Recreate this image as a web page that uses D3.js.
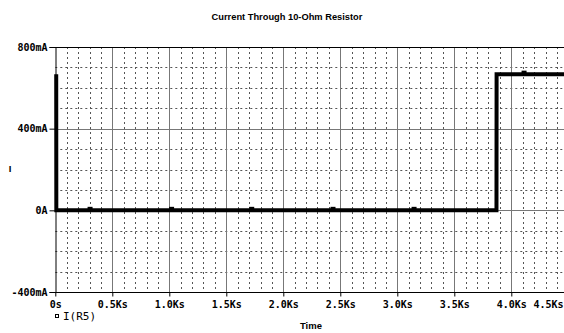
<!DOCTYPE html>
<html>
<head>
<meta charset="utf-8">
<script src="https://cdn.jsdelivr.net/npm/d3@7"></script>
<style>
  body { margin: 0; background: #fff; }
  svg { display: block; }
  .tick text { font-family: "DejaVu Sans Mono", monospace; font-weight: bold; font-size: 10px; fill: #000; }
</style>
</head>
<body>
<svg id="chart"></svg>
<script>
// trace data (time in s, current in A)
var times = [8, 9, 3870, 3871, 4600];
var current = [0.667, 0, 0, 0.667, 0.667];

// PSpice marker points along the trace
var markerTimes = [305, 1020, 1723, 2436, 3147, 4112];
var markerValues = [0, 0, 0, 0, 0, 0.667];

var xTicks = [0, 500, 1000, 1500, 2000, 2500, 3000, 3500, 4000, 4500];
var xTickLabels = ["0s", "0.5Ks", "1.0Ks", "1.5Ks", "2.0Ks", "2.5Ks", "3.0Ks", "3.5Ks", "4.0Ks", "4.5Ks"];
var yTicks = [-0.4, 0, 0.4, 0.8];
var yTickLabels = ["-400mA", "0A", "400mA", "800mA"];

var width = 564, height = 333;
// note: "top" is taken by window.top, so plot edges get their own names
var plotL = 55.3, plotR = 568.3, plotT = 47, plotB = 292;

var svg = d3.select("#chart").attr("width", width).attr("height", height);

var x = d3.scaleLinear().domain([0, 4500]).range([plotL, plotR]);
var y = d3.scaleLinear().domain([-0.4, 0.8]).range([plotB, plotT]);

//minor grid, dotted
var minorX = d3.range(100, 4600, 100).filter(function(d){ return d % 500 != 0; });
var minorY = d3.range(-3, 8).filter(function(d){ return d % 4 != 0; }).map(function(d){ return d / 10; });

svg.append("g").selectAll("line").data(minorX).enter().append("line")
  .attr("x1", function(d){ return Math.round(x(d)) + 0.5; })
  .attr("x2", function(d){ return Math.round(x(d)) + 0.5; })
  .attr("y1", plotT).attr("y2", plotB)
  .attr("stroke", "#555").attr("stroke-dasharray", "2,3");

svg.append("g").selectAll("line").data(minorY).enter().append("line")
  .attr("y1", function(d){ return Math.round(y(d)) + 0.5; })
  .attr("y2", function(d){ return Math.round(y(d)) + 0.5; })
  .attr("x1", plotL).attr("x2", width)
  .attr("stroke", "#555").attr("stroke-dasharray", "2,3");

//major grid, solid gray
svg.append("g").selectAll("line").data(xTicks.slice(1)).enter().append("line")
  .attr("x1", function(d){ return Math.round(x(d)) + 0.5; })
  .attr("x2", function(d){ return Math.round(x(d)) + 0.5; })
  .attr("y1", plotT).attr("y2", plotB)
  .attr("stroke", "#777");

svg.append("g").selectAll("line").data([0, 0.4]).enter().append("line")
  .attr("y1", function(d){ return Math.round(y(d)) + 0.5; })
  .attr("y2", function(d){ return Math.round(y(d)) + 0.5; })
  .attr("x1", plotL).attr("x2", width)
  .attr("stroke", "#777");

// frame: top border
svg.append("line").attr("x1", plotL).attr("x2", width)
  .attr("y1", plotT + 0.5).attr("y2", plotT + 0.5).attr("stroke", "#000");

// axes
var yAxis = d3.axisLeft(y).tickValues(yTicks).tickSize(6).tickPadding(2)
  .tickFormat(function(d, i){ return yTickLabels[i]; });
var gy = svg.append("g").attr("transform", "translate(" + (Math.round(plotL) + 0.5) + ",0)").call(yAxis);
gy.select(".domain").attr("stroke", "#000");

var xAxis = d3.axisBottom(x).tickValues(xTicks).tickSize(4).tickPadding(4)
  .tickFormat(function(d, i){ return xTickLabels[i]; });
var gx = svg.append("g").attr("transform", "translate(0," + (plotB + 0.5) + ")").call(xAxis);
gx.select(".domain").attr("d", "M" + plotL + ",0H" + width).attr("stroke", "#000");
// last label is pulled in so it stays on the page
gx.selectAll(".tick text").filter(function(d){ return d == 4500; })
  .attr("text-anchor", "end").attr("x", width - x(4500) - 1);

// trace
var line = d3.line().x(function(d){ return x(d[0]); }).y(function(d){ return y(d[1]); });
svg.append("path").datum(d3.zip(times, current))
  .attr("d", line).attr("fill", "none").attr("stroke", "#000")
  .attr("stroke-width", 4).attr("stroke-linejoin", "miter");

svg.append("g").selectAll("rect").data(d3.zip(markerTimes, markerValues)).enter().append("rect")
  .attr("x", function(d){ return x(d[0]) - 2.5; })
  .attr("y", function(d){ return y(d[1]) - 3.5; })
  .attr("width", 5).attr("height", 4).attr("fill", "#000");

// texts
svg.append("text").attr("x", 287).attr("y", 20).attr("text-anchor", "middle")
  .style("font-family", "Liberation Sans, Arial, sans-serif").style("font-weight", "bold").style("font-size", "9.3px")
  .text("Current Through 10-Ohm Resistor");

svg.append("text").attr("x", 311).attr("y", 329).attr("text-anchor", "middle")
  .style("font-family", "Liberation Sans, Arial, sans-serif").style("font-weight", "bold").style("font-size", "9.5px")
  .text("Time");

svg.append("text").attr("x", 10).attr("y", 172).attr("text-anchor", "middle")
  .style("font-family", "Liberation Sans, Arial, sans-serif").style("font-weight", "bold").style("font-size", "9.5px")
  .text("I");

// legend
svg.append("rect").attr("x", 55.5).attr("y", 314.5).attr("width", 3).attr("height", 3)
  .attr("fill", "none").attr("stroke", "#000");
svg.append("text").attr("x", 63).attr("y", 320)
  .style("font-family", "DejaVu Sans Mono, monospace").style("font-size", "11px")
  .text("I(R5)");
</script>
</body>
</html>
